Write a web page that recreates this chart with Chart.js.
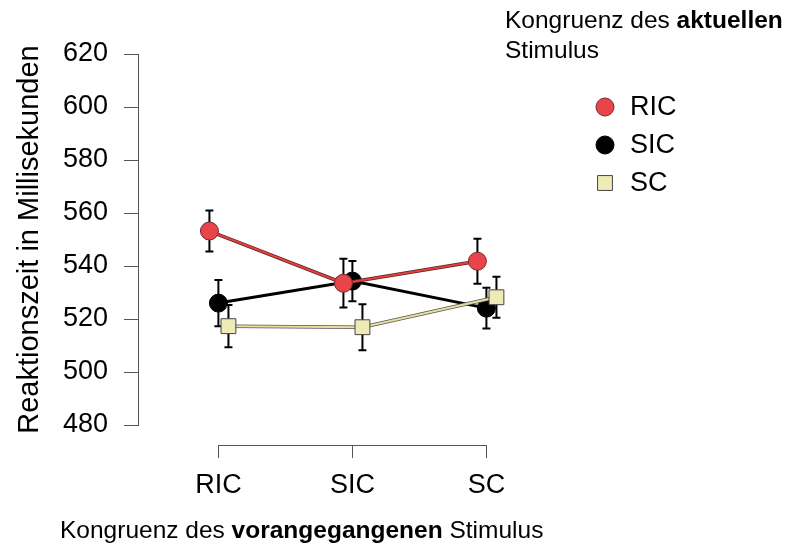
<!DOCTYPE html>
<html>
<head>
<meta charset="utf-8">
<script src="https://cdn.jsdelivr.net/npm/chart.js@4.4.1/dist/chart.umd.min.js"></script>
<style>
  html, body { margin: 0; padding: 0; background: #fff; }
  #wrap { width: 800px; height: 548px; position: relative; }
</style>
</head>
<body>
<div id="wrap"><canvas id="chart"></canvas></div>
<script>
// Kategorien (vorangegangener Stimulus) und Serien (aktueller Stimulus)
const categories = ['RIC', 'SIC', 'SC'];
const seriesNames = ['RIC', 'SIC', 'SC'];

// Mittelwerte und Fehlerbalken (ms)
const ricMeans = [553.2, 533.5, 541.8];
const ricErr = [7.7, 9.2, 8.5];
const sicMeans = [526.0, 534.3, 524.1];
const sicErr = [8.7, 7.6, 7.7];
const scMeans = [517.3, 516.9, 528.2];
const scErr = [8.0, 8.7, 7.7];

const yTicks = [480, 500, 520, 540, 560, 580, 600, 620];

const FONT = '"Liberation Sans", Arial, Helvetica, sans-serif';
const AXIS_GREY = '#555';

// Versatz der Serien je Kategorie
const dodge = [-0.067, 0, 0.075];

const series = [
  { name: seriesNames[0], means: ricMeans, err: ricErr, fill: '#e8454a', border: '#7a2a2a', style: 'circle', radius: 9, line: '#e53e3e', outline: '#5a2424' },
  { name: seriesNames[1], means: sicMeans, err: sicErr, fill: '#000', border: '#000', style: 'circle', radius: 9, line: '#000', outline: null },
  { name: seriesNames[2], means: scMeans, err: scErr, fill: '#efebb6', border: '#444', style: 'rect', radius: 10.5, line: '#e6e0a0', outline: '#555' }
];

function pts(s, k) {
  return s.means.map((v, i) => ({ x: i + 1 + dodge[k], y: v }));
}

const datasets = [];
// Zeichenreihenfolge: SIC unten, dann RIC, SC oben
const orderOf = [2, 4, 0];
series.forEach((s, k) => {
  if (s.outline) {
    datasets.push({
      label: s.name + '_outline',
      data: pts(s, k),
      showLine: true,
      borderColor: s.outline,
      borderWidth: 3.5,
      pointRadius: 0,
      order: orderOf[k] + 1
    });
  }
  datasets.push({
    label: s.name,
    data: pts(s, k),
    showLine: true,
    borderColor: s.line,
    borderWidth: s.outline ? 2 : 3,
    pointStyle: s.style,
    pointRadius: s.radius,
    pointHoverRadius: s.radius,
    pointBackgroundColor: s.fill,
    pointBorderColor: s.border,
    pointBorderWidth: 1,
    order: orderOf[k]
  });
});

const extras = {
  id: 'extras',
  beforeDatasetsDraw(chart) {
    const ctx = chart.ctx;
    const xs = chart.scales.x, ys = chart.scales.y;
    ctx.save();
    ctx.strokeStyle = '#000';
    ctx.lineWidth = 2;
    series.forEach((s, k) => {
      s.means.forEach((m, i) => {
        const x = xs.getPixelForValue(i + 1 + dodge[k]);
        const y1 = ys.getPixelForValue(m + s.err[i]);
        const y2 = ys.getPixelForValue(m - s.err[i]);
        ctx.beginPath();
        ctx.moveTo(x, y1); ctx.lineTo(x, y2);
        ctx.moveTo(x - 4, y1); ctx.lineTo(x + 4, y1);
        ctx.moveTo(x - 4, y2); ctx.lineTo(x + 4, y2);
        ctx.stroke();
      });
    });
    ctx.restore();
  },
  afterDraw(chart) {
    const ctx = chart.ctx;
    const xs = chart.scales.x;
    const area = chart.chartArea;
    ctx.save();
    // x-Achse (nur über den Kategorien)
    const ay = area.bottom + 20;
    const xa = xs.getPixelForValue(1), xb = xs.getPixelForValue(categories.length);
    ctx.strokeStyle = AXIS_GREY;
    ctx.lineWidth = 1;
    ctx.beginPath();
    ctx.moveTo(xa, ay + 0.5); ctx.lineTo(xb, ay + 0.5);
    categories.forEach((c, i) => {
      const x = Math.round(xs.getPixelForValue(i + 1)) + 0.5;
      ctx.moveTo(x, ay); ctx.lineTo(x, ay + 13);
    });
    ctx.stroke();
    ctx.fillStyle = '#000';
    ctx.font = '27px ' + FONT;
    ctx.textAlign = 'center';
    ctx.textBaseline = 'alphabetic';
    categories.forEach((c, i) => {
      ctx.fillText(c, xs.getPixelForValue(i + 1), 493);
    });

    // gemischte Schrift (normal + fett)
    function mixed(parts, x, y, size) {
      ctx.textAlign = 'left';
      parts.forEach(p => {
        ctx.font = (p[1] ? 'bold ' : '') + size + 'px ' + FONT;
        ctx.fillText(p[0], x, y);
        x += ctx.measureText(p[0]).width;
      });
    }
    mixed([['Kongruenz des ', false], ['vorangegangenen', true], [' Stimulus', false]], 60, 538, 24.5);

    // Legende
    mixed([['Kongruenz des ', false], ['aktuellen', true]], 505, 28, 24.5);
    mixed([['Stimulus', false]], 505, 58, 24.5);
    const ly = [107, 145, 183];
    series.forEach((s, k) => {
      ctx.fillStyle = s.fill;
      ctx.strokeStyle = s.border;
      ctx.lineWidth = 1;
      Chart.helpers.drawPoint(ctx, { pointStyle: s.style, radius: s.radius, rotation: 0, borderWidth: 1 }, 605, ly[k]);
      ctx.fillStyle = '#000';
      ctx.font = '27px ' + FONT;
      ctx.textAlign = 'left';
      ctx.textBaseline = 'middle';
      ctx.fillText(s.name, 630, ly[k] + 1);
      ctx.textBaseline = 'alphabetic';
    });
    ctx.restore();
  }
};

new Chart(document.getElementById('chart'), {
  type: 'scatter',
  data: { datasets },
  options: {
    responsive: true,
    maintainAspectRatio: false,
    animation: false,
    events: [],
    layout: { padding: { left: 0, top: 54, right: 233.2, bottom: 123 } },
    plugins: { legend: { display: false }, tooltip: { enabled: false } },
    scales: {
      x: { type: 'linear', min: 0.4, max: 3.6, display: false },
      y: {
        min: yTicks[0],
        max: yTicks[yTicks.length - 1],
        afterBuildTicks(scale) { scale.ticks = yTicks.map(v => ({ value: v })); },
        afterFit(scale) { scale.width = 138; },
        border: { display: true, color: AXIS_GREY, width: 1 },
        grid: { drawOnChartArea: false, color: AXIS_GREY, tickLength: 14 },
        ticks: { color: '#000', font: { family: FONT, size: 27 }, padding: 16 },
        title: {
          display: true,
          text: 'Reaktionszeit in Millisekunden',
          color: '#000',
          font: { family: FONT, size: 29 },
          padding: { top: 13, bottom: 0 }
        }
      }
    }
  },
  plugins: [extras]
});
</script>
</body>
</html>
